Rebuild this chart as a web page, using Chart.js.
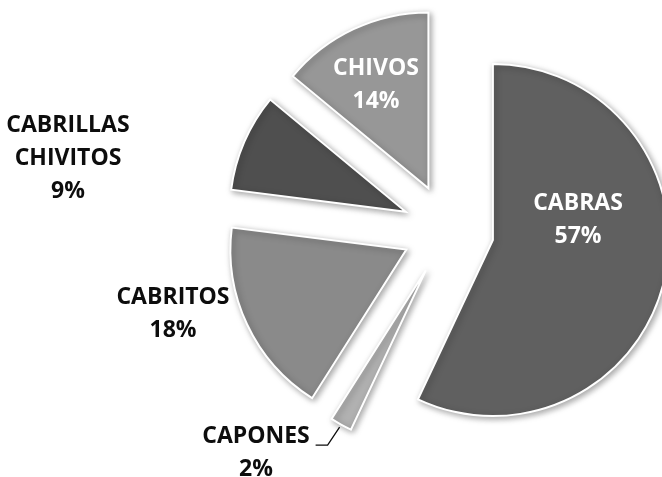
<!DOCTYPE html>
<html>
<head>
<meta charset="utf-8">
<script src="https://cdn.jsdelivr.net/npm/chart.js@4.4.0/dist/chart.umd.min.js"></script>
<style>
    body { margin: 0; background: #fff; }
    #wrap { width: 662px; height: 477px; }
</style>
</head>
<body>
<div id="wrap"><canvas id="pieChart"></canvas></div>
<script>
// Chart data
const categories = ['CABRAS', 'CAPONES', 'CABRITOS', 'CABRILLAS CHIVITOS', 'CHIVOS'];
const shares = [57, 2, 18, 9, 14];
const sliceColors = ['#606060', '#b1b1b1', '#8a8a8a', '#4f4f4f', '#979797'];
const labelColors = ['#ffffff', '#0d0d0d', '#0d0d0d', '#0d0d0d', '#ffffff'];
// label block centres, relative to the pie centre
const labelOffsets = [[130, -10], [-192, 223], [-275, 84], [-380, -72], [-72, -145]];

const EXPLODE = 46;
const LINE_H = 33;
const FONT = 'bold 23px "Open Sans"';

function explodeShift(arc) {
    const mid = (arc.startAngle + arc.endAngle) / 2;
    return { x: Math.cos(mid) * EXPLODE, y: Math.sin(mid) * EXPLODE, mid: mid };
}

// Draw every slice pulled out from the centre, with a soft shadow
const explodedPie = {
    id: 'explodedPie',
    beforeDatasetDraw(chart, args) {
        const ctx = chart.ctx;
        args.meta.data.forEach(arc => {
            const s = explodeShift(arc);
            ctx.save();
            ctx.translate(s.x, s.y);
            ctx.shadowColor = 'rgba(0, 0, 0, 0.35)';
            ctx.shadowBlur = 6;
            ctx.shadowOffsetX = 2;
            ctx.shadowOffsetY = 2;
            arc.draw(ctx);
            ctx.restore();
        });
        return false;
    },
    afterDatasetsDraw(chart) {
        const ctx = chart.ctx;
        const arcs = chart.getDatasetMeta(0).data;
        const cx = arcs[0].x;
        const cy = arcs[0].y;

        ctx.save();
        ctx.font = FONT;
        ctx.textAlign = 'center';
        ctx.textBaseline = 'middle';
        arcs.forEach((arc, i) => {
            const lines = categories[i].split(' ').concat(shares[i] + '%');
            const lx = cx + labelOffsets[i][0];
            const ly = cy + labelOffsets[i][1];
            ctx.fillStyle = labelColors[i];
            lines.forEach((t, k) => {
                ctx.fillText(t, lx, ly + (k - (lines.length - 1) / 2) * LINE_H);
            });
        });

        // leader line for the thin CAPONES slice
        const arc = arcs[1];
        const s = explodeShift(arc);
        const r = arc.outerRadius + 3;
        const endX = arc.x + s.x + Math.cos(s.mid) * r;
        const endY = arc.y + s.y + Math.sin(s.mid) * r;
        ctx.strokeStyle = '#0d0d0d';
        ctx.lineWidth = 1.3;
        ctx.beginPath();
        ctx.moveTo(endX - 24, endY + 18);
        ctx.lineTo(endX - 12, endY + 18);
        ctx.lineTo(endX, endY);
        ctx.stroke();
        ctx.restore();
    }
};

const ctx = document.getElementById('pieChart').getContext('2d');
const pieChart = new Chart(ctx, {
    type: 'pie',
    data: {
        labels: categories,
        datasets: [{
            data: shares,
            backgroundColor: sliceColors,
            borderColor: '#ffffff',
            borderWidth: 2,
            borderJoinStyle: 'miter',
            radius: 176
        }]
    },
    options: {
        responsive: true,
        maintainAspectRatio: false,
        animation: false,
        events: [],
        layout: {
            padding: { left: 234, right: 0, top: 0, bottom: 17 }
        },
        plugins: {
            legend: { display: false },
            tooltip: { enabled: false }
        }
    },
    plugins: [explodedPie]
});
</script>
</body>
</html>
